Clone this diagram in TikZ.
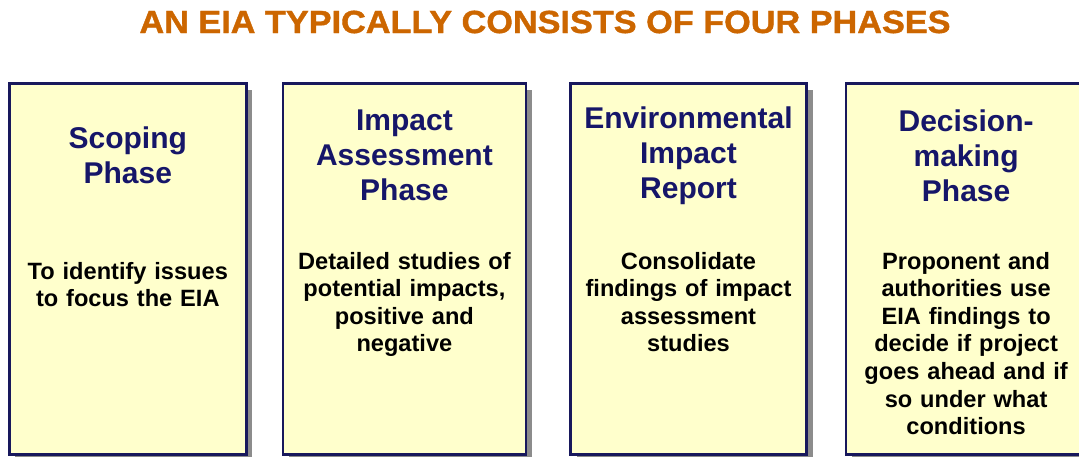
\documentclass[tikz,border=0pt]{standalone}
\usepackage{fontspec}
\setmainfont{Liberation Sans}
\newfontfamily\titlefont{Liberation Sans}[BoldFeatures={FakeBold=1.2}]
\usetikzlibrary{positioning, shadows}
\definecolor{boxyellow}{RGB}{255,255,204}
\definecolor{navyline}{RGB}{24,24,92}
\definecolor{navytext}{RGB}{22,22,105}
\definecolor{titleorange}{RGB}{204,102,0}

\begin{document}
\begin{tikzpicture}[
        x=1pt, y=1pt,
        phase/.style={rectangle, draw=navyline, line width=2.6pt, fill=boxyellow,
            minimum width=237pt, minimum height=371pt, inner sep=0pt,
            drop shadow={shadow xshift=6pt, shadow yshift=-6pt, fill=black!45, opacity=1}},
        heading/.style={align=center, text width=235pt, text=navytext,
            font=\fontsize{30}{35}\selectfont\bfseries},
        body/.style={align=center, text width=230pt, text=black,
            font=\fontsize{23.6}{27.6}\selectfont\bfseries},
        node distance=40pt
        ]
        \path[use as bounding box, clip] (0,0) rectangle (1079,457);

        % Title
        \node (title) at (545,435) {\scalebox{1.07}[1]{\titlefont\fontsize{32}{38}\selectfont\bfseries\color{titleorange}AN EIA TYPICALLY CONSISTS OF FOUR PHASES}};

        % Boxes
        \node (scoping) [phase, anchor=north west] at (8,374.5) {};
        \node (impact) [phase, right=of scoping, xshift=-6pt, minimum width=243pt] {};
        \node (report) [phase, right=of impact, xshift=2pt, minimum width=236pt] {};
        \node (decision) [phase, right=of report, xshift=-3pt, minimum width=240pt] {};

        % Headings
        \node (scopingtitle) [heading] at ([yshift=-73pt]scoping.north) {Scoping\\Phase};
        \node (impacttitle) [heading] at ([yshift=-73pt]impact.north) {Impact\\Assessment\\Phase};
        \node (reporttitle) [heading] at ([yshift=-73pt]report.north) {Environmental\\Impact\\Report};
        \node (decisiontitle) [heading] at ([yshift=-73pt]decision.north) {Decision-\\making\\Phase};

        % Descriptions
        \node (scopingtext) [body, anchor=north] at ([yshift=-176pt]scoping.north) {To identify issues\\to focus the EIA};
        \node (impacttext) [body, anchor=north] at ([yshift=-166pt]impact.north) {Detailed studies of\\potential impacts,\\positive and\\negative};
        \node (reporttext) [body, anchor=north] at ([yshift=-166pt]report.north) {Consolidate\\findings of impact\\assessment\\studies};
        \node (decisiontext) [body, anchor=north] at ([yshift=-166pt]decision.north) {Proponent and\\authorities use\\EIA findings to\\decide if project\\goes ahead and if\\so under what\\conditions};
\end{tikzpicture}
\end{document}
